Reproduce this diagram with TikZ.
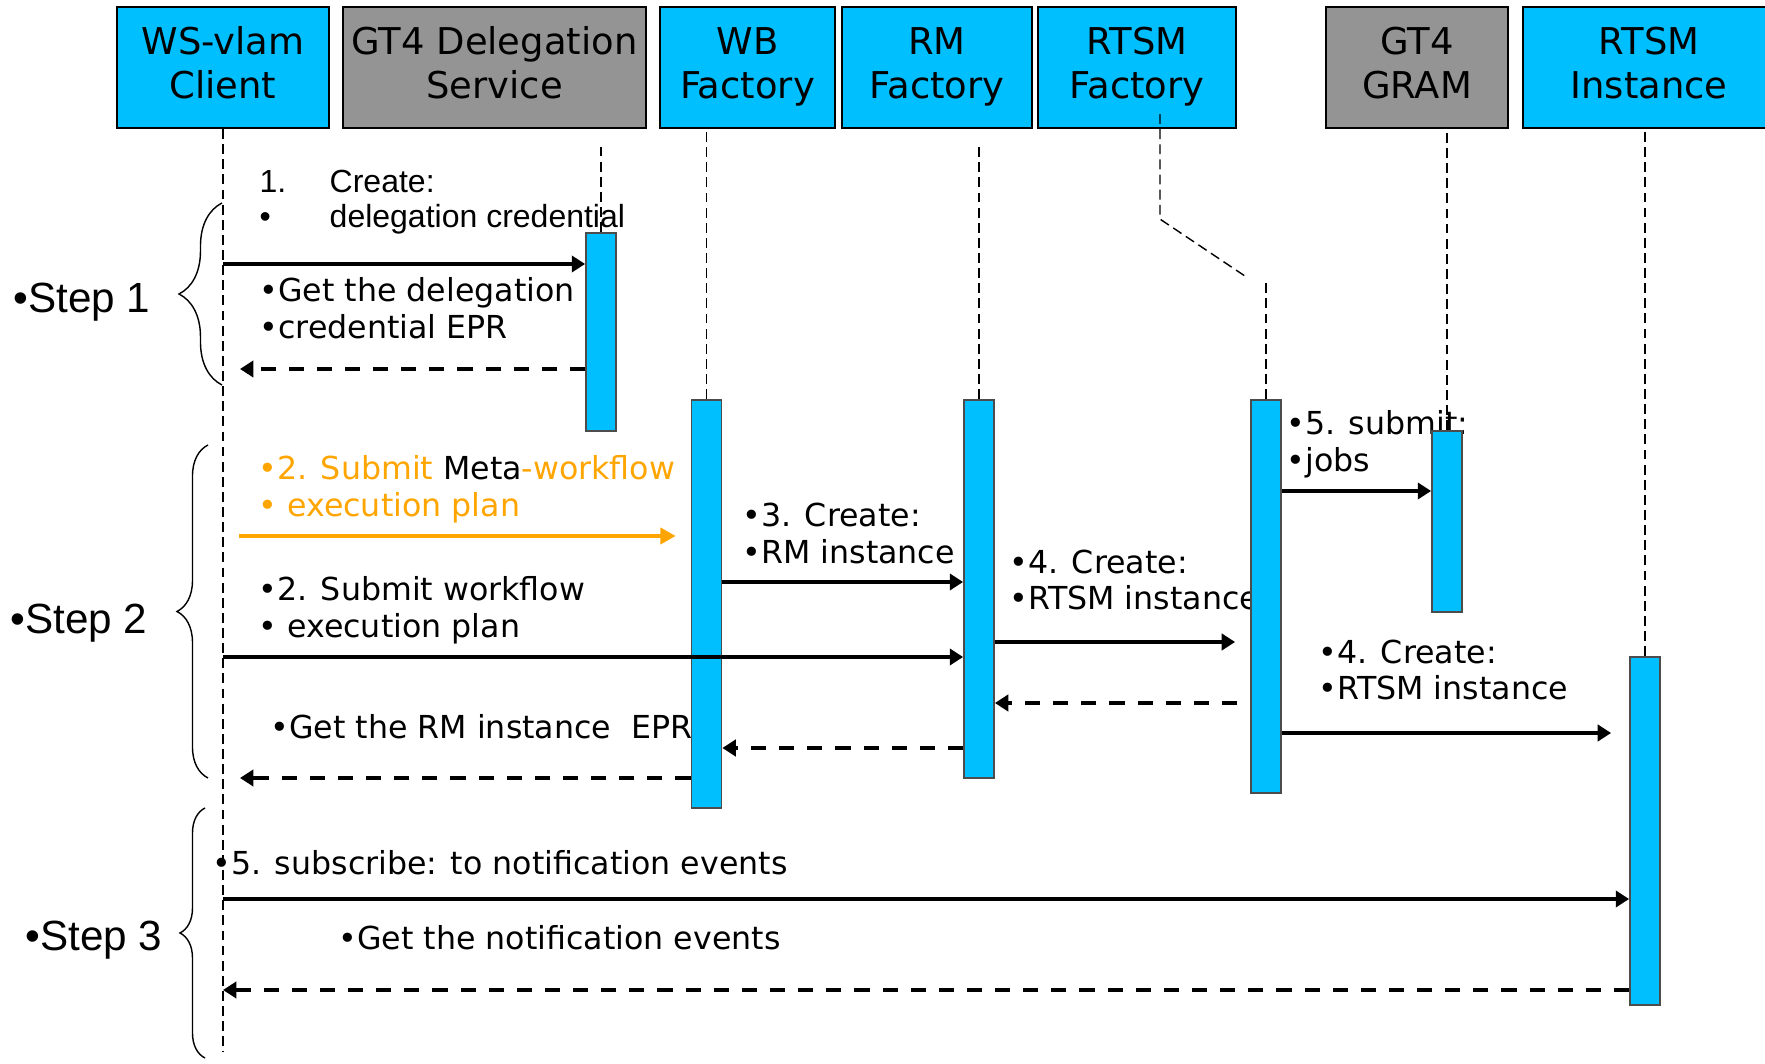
\documentclass[tikz,border=0pt]{standalone}
\usepackage{fontspec}
\setmainfont{DejaVu Sans}
\newfontfamily\arialfont{Liberation Sans}
\usetikzlibrary{arrows.meta,calc,decorations.pathreplacing}
\definecolor{skyblue}{HTML}{00BFFF}
\definecolor{boxgray}{HTML}{949494}
\definecolor{metaorange}{HTML}{FFA500}
\newcommand{\headtxt}[2]{#1\strut\\#2\strut}
\tikzset{
  head/.style={draw=black,line width=0.6pt,fill=skyblue,minimum height=1.21cm,inner sep=1pt,align=center,font=\fontsize{10.5}{12.5}\selectfont},
  headgray/.style={head,fill=boxgray},
  bar/.style={draw=black!70,line width=0.5pt,fill=skyblue,minimum width=0.3cm,inner sep=0pt},
  lifeline/.style={draw=black,line width=0.4pt,dash pattern=on 2.8pt off 1.5pt},
  msg/.style={-{Triangle[length=3.8pt,width=4.6pt]},line width=1.1pt},
  reply/.style={msg,dash pattern=on 4.3pt off 3.7pt},
  msgorange/.style={-{Triangle[length=4.3pt,width=4.6pt]},draw=metaorange,line width=0.9pt},
  lbl/.style={anchor=west,inner sep=0pt,align=left,font=\fontsize{9}{10.5}\selectfont},
  lblarial/.style={lbl,font=\arialfont\fontsize{9.1}{10}\selectfont},
  steplabel/.style={anchor=west,inner sep=0pt,font=\arialfont\fontsize{12}{14}\selectfont},
  stepbrace/.style={decorate,line width=0.4pt}
}
\begin{document}
\begin{tikzpicture}[x=0.01cm,y=-0.01cm]
\path[use as bounding box] (0,0) rectangle (1765,1064);
\node[head,minimum width=2.12cm] (client) at (223,67.5) {\headtxt{WS-vlam}{Client}};
\node[headgray,minimum width=3.03cm] (deleg) at (494.5,67.5) {\headtxt{GT4 Delegation}{Service}};
\node[head,minimum width=1.75cm] (wbf) at (747.5,67.5) {\headtxt{WB}{Factory}};
\node[head,minimum width=1.90cm] (rmf) at (937,67.5) {\headtxt{RM}{Factory}};
\node[head,minimum width=1.98cm] (rtf) at (1137,67.5) {\headtxt{RTSM}{Factory}};
\node[headgray,minimum width=1.82cm] (gram) at (1417,67.5) {\headtxt{GT4}{GRAM}};
\node[head,minimum width=2.52cm] (rtsmi) at (1649,67.5) {\headtxt{RTSM}{Instance}};

\node[steplabel] (step1) at (13,302) {•Step 1};
\node[steplabel] (step2) at (10,623) {•Step 2};
\node[steplabel] (step3) at (25,940) {•Step 3};
\draw[stepbrace,decoration={brace,amplitude=0.43cm}] (222,385) -- (222,203);
\draw[stepbrace,decoration={brace,amplitude=0.31cm}] (208,778) -- (208,445);
\draw[stepbrace,decoration={brace,amplitude=0.25cm}] (205,1058) -- (205,808);

\node[lblarial] (l1) at (259,202.5) {\makebox[0.7cm][l]{1.}Create:\\\makebox[0.7cm][l]{•}delegation credential};
\node[lbl] (l2) at (259,308.5) {•Get the delegation\\•credential EPR};
\node[lbl,text=metaorange] (l3) at (258,489) {•2. Submit {\color{black}Meta}-workflow\\• execution plan};
\node[lbl] (l4) at (258,610.5) {•2. Submit workflow\\• execution plan};
\node[lbl] (l5) at (270,727) {•Get the RM instance\ \ EPR};
\node[lbl] (l6) at (742,533.5) {•3. Create:\\•RM instance};
\node[lbl] (l7) at (1009,580) {•4. Create:\\•RTSM instance};
\node[lbl] (l8) at (1286,444) {•5. submit:\\•jobs};
\node[lbl] (l9) at (1318,670) {•4. Create:\\•RTSM instance};
\node[lbl] (l10) at (212,863) {•5. subscribe: to notification events};
\node[lbl] (l11) at (338,938) {•Get the notification events};

\node[bar,minimum height=1.98cm] (dbar) at (601,332) {};
\node[bar,minimum height=4.08cm] (wbbar) at (706.5,604) {};
\node[bar,minimum height=3.78cm] (rmbar) at (979,589) {};
\node[bar,minimum height=3.93cm] (rtbar) at (1266,596.5) {};
\node[bar,minimum height=1.81cm] (grbar) at (1447,521.5) {};
\node[bar,minimum height=3.48cm] (inbar) at (1645,831) {};

\draw[lifeline] (client.south) -- (client.south |- 0,1052);
\draw[lifeline] (dbar.north) -- (dbar.north |- 0,143);
\draw[lifeline] (wbbar.north) -- (wbbar.north |- wbf.south);
\draw[lifeline] (rmbar.north) -- (rmbar.north |- 0,143);
\draw[lifeline] (rtbar.north) -- ++(0,-120);
\draw[lifeline] ($(rtf.south)+(23,-15)$) -- ++(0,105) -- ++(88,59);
\draw[lifeline] (grbar.north) -- (grbar.north |- gram.south);
\draw[lifeline] (inbar.north) -- (inbar.north |- rtsmi.south);

\draw[msg] (client.south |- 0,264) -- (dbar.west |- 0,264);
\draw[reply,shorten >=0.17cm] (dbar.west |- 0,369) -- (client.south |- 0,369);
\draw[msgorange,shorten <=0.16cm,shorten >=0.15cm] (client.south |- 0,536) -- (wbbar.west |- 0,536);
\draw[msg] (wbbar.east |- 0,582) -- (rmbar.west |- 0,582);
\draw[msg] (client.south |- 0,657) -- (rmbar.west |- 0,657);
\draw[msg,shorten >=0.15cm] (rmbar.east |- 0,642) -- (rtbar.west |- 0,642);
\draw[reply,shorten <=0.13cm] (rtbar.west |- 0,703) -- (rmbar.east |- 0,703);
\draw[reply] (rmbar.west |- 0,748) -- (wbbar.east |- 0,748);
\draw[reply,shorten >=0.17cm] (wbbar.west |- 0,778) -- (client.south |- 0,778);
\draw[msg] (rtbar.east |- 0,491) -- (grbar.west |- 0,491);
\draw[msg,shorten >=0.18cm] (rtbar.east |- 0,733) -- (inbar.west |- 0,733);
\draw[msg] (client.south |- 0,899) -- (inbar.west |- 0,899);
\draw[reply] (inbar.west |- 0,990) -- (client.south |- 0,990);
\end{tikzpicture}
\end{document}
